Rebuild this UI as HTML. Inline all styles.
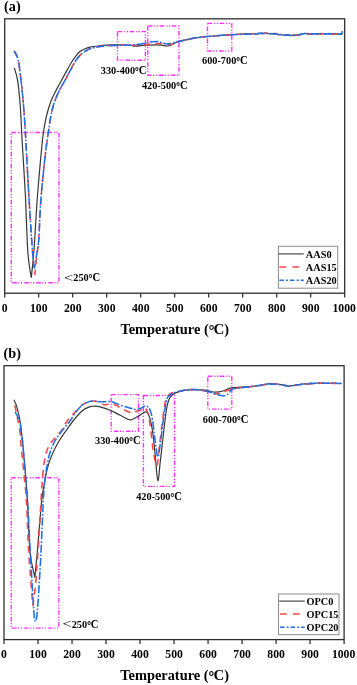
<!DOCTYPE html>
<html><head><meta charset="utf-8"><title>DTG curves</title>
<style>
html,body{margin:0;padding:0;background:#fff;}
body{width:357px;height:685px;overflow:hidden;}
svg{display:block;}
text{font-family:"Liberation Serif",serif;font-weight:bold;fill:#000;}
.tk{font-size:11.7px;}
.ttl{font-size:14.4px;}
.pl{font-size:13.8px;}
.an{font-size:10.3px;}
.lt{font-weight:normal;font-size:12.5px;}
</style></head><body>
<svg width="357" height="685" viewBox="0 0 357 685">
<rect width="357" height="685" fill="#fff"/>
<rect x="11.3" y="132.5" width="47.6" height="150.3" fill="none" stroke="#ff33ff" stroke-width="1.4" stroke-dasharray="4.6 2 1.2 1.5 1.2 1.5"/>
<rect x="117.5" y="31.6" width="27.9" height="28.7" fill="none" stroke="#ff33ff" stroke-width="1.4" stroke-dasharray="4.6 2 1.2 1.5 1.2 1.5"/>
<rect x="147.8" y="26.0" width="31.2" height="49.2" fill="none" stroke="#ff33ff" stroke-width="1.4" stroke-dasharray="4.6 2 1.2 1.5 1.2 1.5"/>
<rect x="207.5" y="23.4" width="24.3" height="27.6" fill="none" stroke="#ff33ff" stroke-width="1.4" stroke-dasharray="4.6 2 1.2 1.5 1.2 1.5"/>
<path d="M14.3 67.8C14.9 69.9 16.6 74.3 17.6 80.3C18.6 86.3 19.4 94.7 20.1 103.8C20.8 112.9 21.5 128.6 21.8 135.0C22.1 141.4 21.6 131.5 22.2 142.0C22.8 152.5 24.6 179.5 25.5 198.0C26.4 216.5 26.9 239.8 27.9 253.0C28.9 266.2 30.7 273.4 31.3 277.5C31.8 272.9 33.0 263.2 34.0 250.0C35.0 236.8 36.1 213.8 37.3 198.0C38.5 182.2 40.0 166.0 41.0 155.0C42.0 144.0 42.5 138.7 43.5 132.0C44.5 125.3 45.4 120.3 46.7 115.0C48.0 109.7 49.8 104.1 51.4 100.0C53.0 95.9 54.5 93.5 56.1 90.4C57.7 87.3 59.3 84.3 61.0 81.2C62.7 78.1 64.3 75.1 66.1 71.9C67.9 68.7 70.1 64.6 71.8 61.8C73.5 59.0 75.2 56.8 76.5 55.1C77.8 53.4 78.4 52.8 79.6 51.8C80.8 50.8 82.1 50.2 83.8 49.4C85.5 48.6 87.3 47.7 90.0 47.1C92.7 46.5 96.4 46.1 100.0 45.7C103.6 45.3 107.0 45.0 111.8 44.9C116.6 44.8 124.7 44.8 128.6 45.0C132.5 45.2 132.5 46.2 135.3 46.2C138.1 46.2 142.0 45.4 145.4 45.2C148.8 45.0 152.8 44.8 155.5 44.8C158.2 44.8 159.8 45.0 161.8 45.2C163.8 45.4 165.8 46.2 167.7 46.0C169.6 45.8 171.1 44.8 173.0 44.0C174.9 43.2 175.5 42.5 179.0 41.5C182.5 40.5 190.3 38.9 193.8 38.2C197.3 37.5 197.7 37.6 200.0 37.3C202.3 37.0 202.3 36.9 207.6 36.5C212.9 36.1 224.0 35.2 231.6 34.7C239.2 34.2 249.0 33.6 253.0 33.5C257.0 33.4 254.7 34.1 255.6 34.1C256.5 34.2 257.3 34.1 258.2 33.9C259.1 33.7 259.9 33.3 260.8 33.2C261.7 33.1 262.5 33.3 263.4 33.3C264.3 33.3 265.1 33.1 266.0 33.2C266.9 33.2 267.7 33.5 268.6 33.6C269.5 33.7 270.3 34.0 271.2 33.9C272.1 33.9 272.9 33.4 273.8 33.4C274.7 33.3 275.5 33.3 276.4 33.6C277.3 33.8 278.1 34.6 279.0 34.8C279.9 35.0 280.7 34.6 281.6 34.7C282.5 34.8 283.3 35.4 284.2 35.4C285.1 35.4 285.9 34.7 286.8 34.6C287.7 34.6 288.5 35.0 289.4 35.1C290.3 35.3 291.1 35.5 292.0 35.4C292.9 35.4 293.7 34.9 294.6 34.9C295.5 34.9 296.3 35.4 297.2 35.4C298.1 35.4 298.9 35.3 299.8 35.0C300.7 34.7 301.5 34.0 302.4 33.7C303.3 33.4 304.1 33.3 305.0 33.4C305.9 33.4 306.7 33.8 307.6 34.0C308.5 34.1 309.3 34.4 310.2 34.4C311.1 34.4 311.9 33.9 312.8 33.8C313.7 33.6 314.5 33.6 315.4 33.6C316.3 33.6 317.1 33.8 318.0 33.8C318.9 33.8 319.7 33.4 320.6 33.4C321.5 33.3 322.3 33.5 323.2 33.6C324.1 33.7 324.9 33.8 325.8 33.9C326.7 34.0 327.5 34.0 328.4 34.0C329.3 34.0 330.1 33.8 331.0 33.8C331.9 33.7 332.7 33.8 333.6 33.8C334.5 33.8 335.3 33.8 336.2 33.8C337.1 33.9 337.9 34.1 338.8 34.1C339.7 34.2 340.8 34.0 341.4 34.0C342.0 34.0 342.2 34.2 342.4 34.2" fill="none" stroke="#383838" stroke-width="1.2" stroke-linejoin="round"/>
<path d="M14.2 50.9C14.9 52.4 17.1 55.4 18.2 60.0C19.3 64.6 19.9 71.3 20.8 78.6C21.7 85.9 22.6 94.4 23.4 103.8C24.2 113.2 25.1 128.6 25.5 135.0C25.9 141.4 25.3 131.5 25.9 142.0C26.5 152.5 27.9 180.0 29.0 198.0C30.1 216.0 31.4 237.3 32.4 250.0C33.4 262.7 34.5 270.3 34.9 274.4C35.2 271.2 36.2 260.7 36.8 255.0C37.4 249.3 38.0 249.5 38.7 240.0C39.4 230.5 39.9 212.2 41.0 198.0C42.1 183.8 44.1 165.4 45.3 155.0C46.4 144.6 47.0 141.5 47.9 135.4C48.8 129.3 49.5 123.5 50.4 118.6C51.3 113.7 52.3 109.3 53.2 106.0C54.1 102.7 54.6 101.6 55.6 99.0C56.6 96.4 57.9 93.4 59.4 90.4C60.9 87.4 62.8 84.3 64.5 81.2C66.2 78.1 67.8 75.0 69.5 71.9C71.2 68.8 73.0 65.2 74.5 62.7C76.0 60.2 77.4 58.3 78.7 56.8C80.0 55.2 80.8 54.4 82.1 53.4C83.4 52.4 85.0 51.4 86.3 50.6C87.6 49.8 87.7 49.4 90.0 48.7C92.3 48.0 96.4 47.0 100.0 46.5C103.6 46.0 107.0 45.7 111.8 45.5C116.6 45.3 124.7 45.3 128.6 45.3C132.5 45.2 132.5 45.4 135.3 45.2C138.1 45.1 143.0 44.6 145.4 44.4C147.8 44.2 147.8 44.1 150.0 44.0C152.2 43.9 155.1 43.4 158.5 43.5C161.9 43.6 167.6 44.5 170.3 44.4C173.1 44.3 173.6 43.5 175.0 43.0C176.4 42.5 175.9 42.3 179.0 41.5C182.1 40.7 190.3 38.9 193.8 38.2C197.3 37.5 197.7 37.6 200.0 37.3C202.3 37.0 202.3 36.9 207.6 36.5C212.9 36.1 224.0 35.2 231.6 34.7C239.2 34.2 249.0 33.9 253.0 33.7C257.0 33.6 254.7 33.8 255.6 33.8C256.5 33.8 257.3 33.6 258.2 33.5C259.1 33.5 259.9 33.6 260.8 33.5C261.7 33.5 262.5 33.5 263.4 33.4C264.3 33.3 265.1 33.0 266.0 32.9C266.9 32.9 267.7 32.9 268.6 33.1C269.5 33.2 270.3 33.8 271.2 33.9C272.1 33.9 272.9 33.6 273.8 33.6C274.7 33.6 275.5 33.7 276.4 33.9C277.3 34.1 278.1 34.6 279.0 34.8C279.9 34.9 280.7 34.7 281.6 34.8C282.5 34.9 283.3 35.3 284.2 35.4C285.1 35.4 285.9 35.2 286.8 35.2C287.7 35.2 288.5 35.3 289.4 35.3C290.3 35.3 291.1 35.0 292.0 35.0C292.9 35.0 293.7 35.3 294.6 35.3C295.5 35.3 296.3 35.3 297.2 35.1C298.1 35.0 298.9 34.7 299.8 34.6C300.7 34.4 301.5 34.5 302.4 34.4C303.3 34.3 304.1 34.2 305.0 34.0C305.9 33.9 306.7 33.6 307.6 33.6C308.5 33.6 309.3 34.0 310.2 34.1C311.1 34.1 311.9 34.0 312.8 34.0C313.7 33.9 314.5 33.8 315.4 33.8C316.3 33.7 317.1 33.5 318.0 33.6C318.9 33.6 319.7 34.1 320.6 34.2C321.5 34.2 322.3 33.9 323.2 33.9C324.1 33.9 324.9 34.0 325.8 34.0C326.7 34.1 327.5 34.2 328.4 34.2C329.3 34.2 330.1 34.0 331.0 34.0C331.9 34.1 332.7 34.2 333.6 34.2C334.5 34.2 335.3 33.8 336.2 33.8C337.1 33.8 337.9 34.1 338.8 34.1C339.7 34.1 340.8 34.0 341.4 34.0C342.0 34.0 342.2 34.2 342.4 34.2" fill="none" stroke="#ff4545" stroke-width="1.55" stroke-dasharray="6.7 5.1" stroke-linejoin="round"/>
<path d="M14.2 50.9C14.9 52.4 17.1 55.4 18.2 60.0C19.3 64.6 19.9 71.3 20.8 78.6C21.7 85.9 22.6 94.4 23.4 103.8C24.2 113.2 25.1 128.6 25.5 135.0C25.9 141.4 25.3 131.5 25.9 142.0C26.5 152.5 27.9 180.0 29.0 198.0C30.1 216.0 31.5 238.3 32.4 250.0C33.3 261.7 34.1 265.0 34.5 268.0C34.9 265.8 35.9 259.7 36.6 255.0C37.3 250.3 38.0 249.5 38.7 240.0C39.4 230.5 39.9 212.2 41.0 198.0C42.1 183.8 44.1 165.4 45.3 155.0C46.4 144.6 47.0 141.5 47.9 135.4C48.8 129.3 49.5 123.5 50.4 118.6C51.3 113.7 52.3 109.3 53.2 106.0C54.1 102.7 54.6 101.6 55.6 99.0C56.6 96.4 57.9 93.4 59.4 90.4C60.9 87.4 62.8 84.3 64.5 81.2C66.2 78.1 67.8 75.0 69.5 71.9C71.2 68.8 73.0 65.2 74.5 62.7C76.0 60.2 77.4 58.3 78.7 56.8C80.0 55.2 80.8 54.4 82.1 53.4C83.4 52.4 85.0 51.4 86.3 50.6C87.6 49.8 87.7 49.4 90.0 48.7C92.3 48.0 96.4 47.0 100.0 46.5C103.6 46.0 107.0 45.7 111.8 45.5C116.6 45.3 124.7 45.4 128.6 45.2C132.5 45.1 132.5 44.9 135.3 44.6C138.1 44.3 143.0 43.6 145.4 43.2C147.8 42.8 148.1 42.3 150.0 42.0C151.9 41.7 154.8 41.5 156.8 41.6C158.8 41.7 160.3 42.4 162.0 42.8C163.7 43.2 165.0 43.9 166.9 43.9C168.8 43.9 171.6 43.1 173.6 42.7C175.6 42.3 175.6 42.2 179.0 41.5C182.4 40.8 190.3 38.9 193.8 38.2C197.3 37.5 197.7 37.6 200.0 37.3C202.3 37.0 202.3 36.9 207.6 36.5C212.9 36.1 224.0 35.1 231.6 34.7C239.2 34.3 249.0 34.3 253.0 34.2C257.0 34.1 254.7 34.2 255.6 34.1C256.5 33.9 257.3 33.4 258.2 33.3C259.1 33.2 259.9 33.1 260.8 33.2C261.7 33.2 262.5 33.5 263.4 33.6C264.3 33.6 265.1 33.4 266.0 33.4C266.9 33.4 267.7 33.5 268.6 33.5C269.5 33.6 270.3 33.4 271.2 33.5C272.1 33.5 272.9 33.8 273.8 33.9C274.7 34.0 275.5 34.1 276.4 34.2C277.3 34.3 278.1 34.4 279.0 34.5C279.9 34.6 280.7 34.4 281.6 34.5C282.5 34.6 283.3 35.0 284.2 35.1C285.1 35.2 285.9 35.1 286.8 35.1C287.7 35.2 288.5 35.3 289.4 35.4C290.3 35.4 291.1 35.5 292.0 35.5C292.9 35.6 293.7 35.6 294.6 35.5C295.5 35.4 296.3 35.1 297.2 34.9C298.1 34.7 298.9 34.6 299.8 34.5C300.7 34.4 301.5 34.2 302.4 34.0C303.3 33.9 304.1 33.7 305.0 33.6C305.9 33.5 306.7 33.5 307.6 33.6C308.5 33.6 309.3 33.8 310.2 33.9C311.1 33.9 311.9 33.8 312.8 33.8C313.7 33.8 314.5 33.8 315.4 33.8C316.3 33.9 317.1 34.2 318.0 34.2C318.9 34.2 319.7 34.0 320.6 33.9C321.5 33.9 322.3 34.0 323.2 33.9C324.1 33.9 324.9 33.8 325.8 33.7C326.7 33.7 327.5 33.6 328.4 33.6C329.3 33.6 330.1 33.8 331.0 33.8C331.9 33.8 332.7 33.6 333.6 33.6C334.5 33.7 335.3 33.8 336.2 33.9C337.1 34.0 337.9 34.3 338.8 34.2C339.7 34.2 340.9 33.9 341.4 33.8C341.9 33.7 341.8 33.6 341.9 33.6C342.0 33.2 342.3 31.4 342.4 31.0" fill="none" stroke="#1f6fe6" stroke-width="1.55" stroke-dasharray="8.2 1.8 1.7 1.8" stroke-linejoin="round"/>
<rect x="4.7" y="18.8" width="340.0" height="274.4" fill="none" stroke="#2e2e2e" stroke-width="1.3"/>
<line x1="4.70" y1="293.2" x2="4.70" y2="297.6" stroke="#2e2e2e" stroke-width="1.25"/>
<text transform="translate(4.7 311.9) scale(1 1.07)" text-anchor="middle" class="tk">0</text>
<line x1="38.70" y1="293.2" x2="38.70" y2="297.6" stroke="#2e2e2e" stroke-width="1.25"/>
<text transform="translate(38.7 311.9) scale(1 1.07)" text-anchor="middle" class="tk">100</text>
<line x1="72.70" y1="293.2" x2="72.70" y2="297.6" stroke="#2e2e2e" stroke-width="1.25"/>
<text transform="translate(72.7 311.9) scale(1 1.07)" text-anchor="middle" class="tk">200</text>
<line x1="106.70" y1="293.2" x2="106.70" y2="297.6" stroke="#2e2e2e" stroke-width="1.25"/>
<text transform="translate(106.7 311.9) scale(1 1.07)" text-anchor="middle" class="tk">300</text>
<line x1="140.70" y1="293.2" x2="140.70" y2="297.6" stroke="#2e2e2e" stroke-width="1.25"/>
<text transform="translate(140.7 311.9) scale(1 1.07)" text-anchor="middle" class="tk">400</text>
<line x1="174.70" y1="293.2" x2="174.70" y2="297.6" stroke="#2e2e2e" stroke-width="1.25"/>
<text transform="translate(174.7 311.9) scale(1 1.07)" text-anchor="middle" class="tk">500</text>
<line x1="208.70" y1="293.2" x2="208.70" y2="297.6" stroke="#2e2e2e" stroke-width="1.25"/>
<text transform="translate(208.7 311.9) scale(1 1.07)" text-anchor="middle" class="tk">600</text>
<line x1="242.70" y1="293.2" x2="242.70" y2="297.6" stroke="#2e2e2e" stroke-width="1.25"/>
<text transform="translate(242.7 311.9) scale(1 1.07)" text-anchor="middle" class="tk">700</text>
<line x1="276.70" y1="293.2" x2="276.70" y2="297.6" stroke="#2e2e2e" stroke-width="1.25"/>
<text transform="translate(276.7 311.9) scale(1 1.07)" text-anchor="middle" class="tk">800</text>
<line x1="310.70" y1="293.2" x2="310.70" y2="297.6" stroke="#2e2e2e" stroke-width="1.25"/>
<text transform="translate(310.7 311.9) scale(1 1.07)" text-anchor="middle" class="tk">900</text>
<line x1="344.70" y1="293.2" x2="344.70" y2="297.6" stroke="#2e2e2e" stroke-width="1.25"/>
<text transform="translate(344.2 311.9) scale(1 1.07)" text-anchor="middle" class="tk">1000</text>
<text x="174.8" y="333.6" text-anchor="middle" class="ttl">Temperature (<tspan font-size="14.2px" dy="1.3" stroke="#000" stroke-width="0.18">°</tspan><tspan dy="-1.3" font-size="14.9px" dx="-0.9">C</tspan>)</text>
<text transform="translate(4.0 11.3) scale(1.035 1)" class="pl">(a)</text>
<text transform="translate(100.8 74.0) scale(1 1.1)" class="an">330-400<tspan font-size="9.2px" dy="1.0" stroke="#000" stroke-width="0.18">°</tspan><tspan dy="-1.0" font-size="10.7px">C</tspan></text>
<text transform="translate(141.9 89.3) scale(1 1.1)" class="an">420-500<tspan font-size="9.2px" dy="1.0" stroke="#000" stroke-width="0.18">°</tspan><tspan dy="-1.0" font-size="10.7px">C</tspan></text>
<text transform="translate(202.0 63.8) scale(1 1.1)" class="an">600-700<tspan font-size="9.2px" dy="1.0" stroke="#000" stroke-width="0.18">°</tspan><tspan dy="-1.0" font-size="10.7px">C</tspan></text>
<text transform="translate(73.3 281.3) scale(1 1.1)" class="an">250<tspan font-size="9.2px" dy="1.0" stroke="#000" stroke-width="0.18">°</tspan><tspan dy="-1.0" font-size="10.7px">C</tspan></text>
<text transform="translate(64.0 281.5) scale(1.32 1.05)" class="lt">&lt;</text>
<rect x="278.4" y="246.3" width="59.3" height="41.9" fill="#fff" stroke="#8c8c8c" stroke-width="1"/>
<line x1="278.6" y1="253.9" x2="303.8" y2="253.9" stroke="#383838" stroke-width="1.1"/>
<line x1="279.4" y1="266.9" x2="303.8" y2="266.9" stroke="#ff4545" stroke-width="1.5" stroke-dasharray="6.8 6.2"/>
<line x1="279.4" y1="280.3" x2="303.8" y2="280.3" stroke="#1f6fe6" stroke-width="1.5" stroke-dasharray="4.5 2.1 1.9 2.1"/>
<text transform="translate(305.8 257.9) scale(1 1.09)" class="an">AAS0</text>
<text transform="translate(305.8 270.9) scale(1 1.09)" class="an">AAS15</text>
<text transform="translate(305.8 284.3) scale(1 1.09)" class="an">AAS20</text>
<rect x="11.2" y="477.8" width="47.6" height="150.3" fill="none" stroke="#ff33ff" stroke-width="1.4" stroke-dasharray="4.6 2 1.2 1.5 1.2 1.5"/>
<rect x="111.2" y="394.6" width="27.3" height="36.6" fill="none" stroke="#ff33ff" stroke-width="1.4" stroke-dasharray="4.6 2 1.2 1.5 1.2 1.5"/>
<rect x="143.4" y="395.5" width="31.1" height="90.9" fill="none" stroke="#ff33ff" stroke-width="1.4" stroke-dasharray="4.6 2 1.2 1.5 1.2 1.5"/>
<rect x="207.8" y="376.3" width="24.0" height="32.8" fill="none" stroke="#ff33ff" stroke-width="1.4" stroke-dasharray="4.6 2 1.2 1.5 1.2 1.5"/>
<path d="M13.9 399.8C14.4 401.0 15.8 403.1 16.8 406.8C17.9 410.5 19.4 417.2 20.2 422.0C21.0 426.8 21.4 431.9 21.8 435.4C22.2 438.9 21.8 432.6 22.7 443.0C23.6 453.4 26.1 479.8 27.3 498.0C28.5 516.2 28.7 538.8 30.0 552.0C31.3 565.2 34.1 573.1 34.9 577.3C35.3 573.1 36.3 563.2 37.3 552.0C38.3 540.8 39.9 519.5 40.8 510.0C41.6 500.5 41.8 499.8 42.4 495.0C43.0 490.2 44.0 485.6 44.7 481.5C45.5 477.4 46.0 474.0 46.9 470.3C47.8 466.6 49.0 462.7 50.3 459.1C51.6 455.6 53.0 452.4 54.7 449.0C56.4 445.6 58.3 442.2 60.3 439.0C62.3 435.8 64.3 433.2 66.6 430.0C68.9 426.8 71.6 422.7 74.2 419.5C76.8 416.3 79.6 413.1 82.0 411.0C84.4 408.9 86.7 407.9 88.7 407.1C90.7 406.3 91.9 406.2 93.8 406.2C95.7 406.1 97.3 406.1 100.0 406.8C102.7 407.5 106.8 408.8 110.2 410.2C113.6 411.6 117.2 413.8 120.3 415.3C123.4 416.9 126.7 418.8 128.7 419.5C130.6 420.2 130.3 420.1 132.0 419.5C133.7 418.9 136.7 417.3 138.7 416.1C140.7 414.9 142.4 413.1 143.8 412.5C145.2 411.9 146.3 411.5 147.3 412.5C148.3 413.5 149.0 415.3 149.9 418.3C150.8 421.3 151.6 424.5 152.5 430.6C153.4 436.8 154.3 446.9 155.2 455.2C156.1 463.5 156.9 479.7 157.8 480.6C158.7 481.5 159.5 467.6 160.4 460.4C161.3 453.2 162.1 445.2 163.0 437.6C163.9 430.0 164.9 420.4 165.7 414.8C166.4 409.2 166.8 407.2 167.5 404.3C168.2 401.4 168.7 399.2 170.0 397.3C171.3 395.4 173.1 394.1 175.4 392.9C177.8 391.7 180.8 390.9 184.1 390.3C187.4 389.8 191.5 389.6 195.0 389.6C198.5 389.6 201.9 389.8 205.3 390.2C208.7 390.6 212.5 392.1 215.4 392.2C218.3 392.3 220.4 391.7 222.9 391.0C225.4 390.3 227.6 388.8 230.5 388.2C233.4 387.6 237.2 387.5 240.6 387.2C244.0 386.9 247.5 386.9 250.7 386.6C253.9 386.3 257.1 385.9 260.0 385.4C262.9 384.9 266.2 384.1 268.0 383.8C269.8 383.6 269.7 383.7 270.6 383.8C271.5 383.8 272.3 383.9 273.2 383.9C274.1 383.9 274.9 383.8 275.8 383.8C276.7 383.8 277.5 383.8 278.4 384.0C279.3 384.1 280.1 384.4 281.0 384.6C281.9 384.9 282.7 385.2 283.6 385.4C284.5 385.6 285.3 385.7 286.2 385.8C287.1 385.9 287.9 386.3 288.8 386.2C289.7 386.2 290.5 385.7 291.4 385.6C292.3 385.5 293.1 385.5 294.0 385.4C294.9 385.3 295.7 385.1 296.6 384.9C297.5 384.7 298.3 384.6 299.2 384.5C300.1 384.3 300.9 384.2 301.8 384.1C302.7 384.0 303.5 383.8 304.4 383.8C305.3 383.8 306.1 384.1 307.0 384.1C307.9 384.1 308.7 383.9 309.6 383.9C310.5 383.8 311.3 383.7 312.2 383.7C313.1 383.6 313.9 383.6 314.8 383.5C315.7 383.4 316.5 383.1 317.4 383.0C318.3 382.9 319.1 383.0 320.0 383.0C320.9 383.0 321.7 383.2 322.6 383.2C323.5 383.3 324.3 383.3 325.2 383.3C326.1 383.4 326.9 383.4 327.8 383.4C328.7 383.5 329.5 383.5 330.4 383.5C331.3 383.4 332.1 383.1 333.0 383.0C333.9 383.0 334.7 383.3 335.6 383.4C336.5 383.5 337.2 383.5 338.2 383.5C339.2 383.5 340.9 383.4 341.4 383.4" fill="none" stroke="#383838" stroke-width="1.2" stroke-linejoin="round"/>
<path d="M14.8 405.2C15.3 407.4 16.7 413.9 17.6 418.6C18.5 423.4 19.6 429.3 20.2 433.7C20.8 438.1 20.0 434.3 21.0 445.0C22.0 455.7 24.9 480.2 26.2 498.0C27.5 515.8 27.6 534.1 28.7 552.0C29.8 569.9 32.1 596.6 32.8 605.5C33.3 602.1 34.9 591.9 35.6 585.0C36.3 578.1 36.6 569.5 37.0 564.0C37.4 558.5 37.3 563.2 38.0 552.0C38.7 540.8 40.4 510.3 41.2 497.0C42.1 483.7 42.6 477.8 43.1 472.0C43.6 466.2 43.8 465.1 44.3 462.0C44.8 458.9 45.2 456.4 46.0 453.6C46.8 450.8 47.8 447.9 49.3 445.2C50.8 442.5 53.1 440.1 55.2 437.6C57.3 435.1 60.1 432.5 61.9 430.0C63.7 427.5 64.1 425.2 66.1 422.5C68.0 419.8 70.9 416.5 73.6 413.6C76.2 410.7 79.5 407.2 82.0 405.2C84.5 403.2 86.8 402.5 88.7 401.8C90.6 401.1 91.5 400.9 93.4 401.0C95.3 401.1 98.0 401.9 100.0 402.6C102.0 403.3 103.1 404.9 105.1 405.0C107.1 405.1 109.3 403.1 111.8 403.5C114.3 403.9 117.5 406.3 120.3 407.7C123.1 409.1 126.5 411.2 128.7 411.9C130.9 412.6 131.8 412.2 133.7 411.9C135.6 411.6 138.6 410.9 140.4 410.2C142.2 409.5 143.3 407.2 144.6 407.8C145.9 408.4 147.2 410.1 148.2 413.9C149.2 417.7 149.9 424.3 150.8 430.6C151.7 436.9 152.4 445.9 153.4 451.7C154.4 457.5 155.9 466.9 156.9 465.7C157.9 464.5 158.7 451.6 159.6 444.6C160.5 437.6 161.3 430.3 162.2 423.6C163.1 416.9 163.9 408.8 164.8 404.3C165.7 399.8 166.3 398.3 167.5 396.4C168.7 394.5 169.0 393.9 171.8 392.9C174.6 391.9 180.2 390.9 184.1 390.3C188.0 389.8 191.1 389.4 195.0 389.6C198.9 389.8 204.4 390.8 207.8 391.5C211.2 392.2 213.3 393.7 215.4 394.0C217.5 394.3 218.3 393.8 220.4 393.2C222.5 392.6 225.1 391.1 228.0 390.2C230.9 389.3 234.2 388.6 238.0 388.0C241.8 387.4 247.0 387.0 250.7 386.6C254.4 386.2 257.1 385.8 260.0 385.4C262.9 385.0 266.2 384.4 268.0 384.1C269.8 383.9 269.7 384.2 270.6 384.2C271.5 384.1 272.3 384.0 273.2 384.0C274.1 383.9 274.9 383.9 275.8 383.9C276.7 383.9 277.5 383.9 278.4 384.0C279.3 384.1 280.1 384.6 281.0 384.8C281.9 385.0 282.7 385.0 283.6 385.1C284.5 385.3 285.3 385.6 286.2 385.7C287.1 385.9 287.9 386.0 288.8 386.0C289.7 386.0 290.5 386.0 291.4 385.9C292.3 385.8 293.1 385.4 294.0 385.3C294.9 385.2 295.7 385.3 296.6 385.2C297.5 385.1 298.3 384.9 299.2 384.8C300.1 384.6 300.9 384.4 301.8 384.3C302.7 384.1 303.5 384.1 304.4 384.0C305.3 383.9 306.1 384.0 307.0 383.9C307.9 383.8 308.7 383.6 309.6 383.5C310.5 383.4 311.3 383.5 312.2 383.5C313.1 383.5 313.9 383.6 314.8 383.5C315.7 383.4 316.5 383.1 317.4 383.1C318.3 383.0 319.1 383.2 320.0 383.3C320.9 383.3 321.7 383.2 322.6 383.2C323.5 383.3 324.3 383.4 325.2 383.4C326.1 383.3 326.9 383.2 327.8 383.1C328.7 383.1 329.5 383.0 330.4 383.1C331.3 383.1 332.1 383.4 333.0 383.4C333.9 383.5 334.7 383.5 335.6 383.5C336.5 383.5 337.2 383.3 338.2 383.3C339.2 383.3 340.9 383.4 341.4 383.4" fill="none" stroke="#ff4545" stroke-width="1.55" stroke-dasharray="6.7 5.1" stroke-linejoin="round"/>
<path d="M15.1 411.9C15.9 413.6 18.7 417.5 19.8 422.0C20.9 426.5 21.3 435.3 21.8 438.8C22.3 442.3 21.8 433.1 22.7 443.0C23.6 452.9 26.0 479.8 27.3 498.0C28.6 516.2 29.4 536.3 30.3 552.0C31.2 567.7 32.0 581.8 32.6 592.0C33.2 602.2 33.7 608.5 34.0 613.0C34.3 617.5 34.4 617.9 34.6 619.3C34.8 620.7 35.1 621.6 35.4 621.6C35.7 621.6 36.0 620.7 36.3 619.3C36.6 617.9 36.8 617.5 37.2 613.0C37.6 608.5 38.1 602.5 38.7 592.0C39.4 581.5 40.4 564.7 41.1 550.0C41.8 535.3 42.6 513.9 43.1 504.0C43.6 494.1 43.7 494.8 44.0 490.5C44.3 486.2 44.6 482.1 45.1 478.2C45.6 474.3 46.2 470.7 46.9 467.0C47.6 463.3 48.2 459.4 49.1 455.8C50.0 452.2 51.2 448.7 52.5 445.7C53.8 442.7 55.3 440.4 57.0 437.8C58.7 435.2 60.5 432.7 62.6 430.0C64.7 427.3 67.4 424.5 69.5 421.7C71.6 418.9 72.9 415.9 75.0 413.2C77.1 410.4 79.7 407.1 82.0 405.2C84.3 403.3 86.7 402.5 88.7 401.8C90.7 401.1 91.9 401.0 93.8 401.0C95.7 401.0 97.0 401.7 100.0 401.8C103.0 401.9 108.4 401.2 111.8 401.8C115.2 402.4 117.5 404.2 120.3 405.2C123.1 406.2 126.2 407.0 128.7 407.7C131.2 408.4 133.4 409.3 135.4 409.4C137.4 409.5 138.7 409.1 140.4 408.5C142.1 407.9 143.9 405.8 145.5 406.0C147.1 406.2 148.7 407.2 149.9 409.6C151.1 412.0 151.6 414.9 152.5 420.1C153.4 425.4 154.3 435.0 155.2 441.1C156.1 447.2 156.9 456.6 157.8 456.9C158.7 457.2 159.5 448.8 160.4 442.9C161.3 437.0 162.1 428.2 163.0 421.8C163.9 415.4 164.8 408.5 165.7 404.3C166.6 400.1 167.0 398.3 168.3 396.4C169.6 394.5 171.0 393.9 173.6 392.9C176.2 391.9 180.5 390.9 184.1 390.3C187.7 389.8 191.1 389.4 195.0 389.6C198.9 389.8 204.4 390.8 207.8 391.5C211.2 392.2 212.9 393.3 215.4 394.0C217.9 394.7 220.8 395.8 222.9 395.8C225.0 395.8 226.5 395.1 228.0 394.0C229.5 392.9 230.1 390.5 231.8 389.5C233.5 388.5 234.8 388.7 238.0 388.2C241.2 387.7 247.0 387.1 250.7 386.6C254.4 386.1 257.1 385.8 260.0 385.4C262.9 385.0 266.2 384.3 268.0 384.1C269.8 383.8 269.7 384.1 270.6 384.1C271.5 384.1 272.3 384.1 273.2 384.1C274.1 384.2 274.9 384.2 275.8 384.2C276.7 384.3 277.5 384.2 278.4 384.4C279.3 384.5 280.1 384.8 281.0 384.9C281.9 385.0 282.7 384.8 283.6 384.9C284.5 385.0 285.3 385.4 286.2 385.6C287.1 385.8 287.9 386.2 288.8 386.3C289.7 386.3 290.5 386.0 291.4 385.8C292.3 385.7 293.1 385.8 294.0 385.6C294.9 385.4 295.7 385.0 296.6 384.8C297.5 384.7 298.3 384.8 299.2 384.7C300.1 384.6 300.9 384.3 301.8 384.2C302.7 384.1 303.5 384.1 304.4 384.0C305.3 383.9 306.1 384.0 307.0 383.9C307.9 383.8 308.7 383.5 309.6 383.4C310.5 383.3 311.3 383.4 312.2 383.4C313.1 383.3 313.9 383.2 314.8 383.2C315.7 383.2 316.5 383.4 317.4 383.4C318.3 383.4 319.1 383.3 320.0 383.2C320.9 383.2 321.7 383.0 322.6 383.0C323.5 383.0 324.3 383.3 325.2 383.3C326.1 383.3 326.9 383.0 327.8 383.0C328.7 383.0 329.5 383.3 330.4 383.3C331.3 383.3 332.1 383.1 333.0 383.1C333.9 383.1 334.7 383.0 335.6 383.1C336.5 383.1 337.2 383.5 338.2 383.5C339.2 383.6 340.9 383.4 341.4 383.4" fill="none" stroke="#1f6fe6" stroke-width="1.55" stroke-dasharray="8.2 1.8 1.7 1.8" stroke-linejoin="round"/>
<rect x="4.0" y="365.7" width="340.1" height="273.9" fill="none" stroke="#2e2e2e" stroke-width="1.3"/>
<line x1="4.00" y1="639.6" x2="4.00" y2="644.0" stroke="#2e2e2e" stroke-width="1.25"/>
<text transform="translate(4.0 658.3) scale(1 1.07)" text-anchor="middle" class="tk">0</text>
<line x1="38.01" y1="639.6" x2="38.01" y2="644.0" stroke="#2e2e2e" stroke-width="1.25"/>
<text transform="translate(38.0 658.3) scale(1 1.07)" text-anchor="middle" class="tk">100</text>
<line x1="72.02" y1="639.6" x2="72.02" y2="644.0" stroke="#2e2e2e" stroke-width="1.25"/>
<text transform="translate(72.0 658.3) scale(1 1.07)" text-anchor="middle" class="tk">200</text>
<line x1="106.03" y1="639.6" x2="106.03" y2="644.0" stroke="#2e2e2e" stroke-width="1.25"/>
<text transform="translate(106.0 658.3) scale(1 1.07)" text-anchor="middle" class="tk">300</text>
<line x1="140.04" y1="639.6" x2="140.04" y2="644.0" stroke="#2e2e2e" stroke-width="1.25"/>
<text transform="translate(140.0 658.3) scale(1 1.07)" text-anchor="middle" class="tk">400</text>
<line x1="174.05" y1="639.6" x2="174.05" y2="644.0" stroke="#2e2e2e" stroke-width="1.25"/>
<text transform="translate(174.1 658.3) scale(1 1.07)" text-anchor="middle" class="tk">500</text>
<line x1="208.06" y1="639.6" x2="208.06" y2="644.0" stroke="#2e2e2e" stroke-width="1.25"/>
<text transform="translate(208.1 658.3) scale(1 1.07)" text-anchor="middle" class="tk">600</text>
<line x1="242.07" y1="639.6" x2="242.07" y2="644.0" stroke="#2e2e2e" stroke-width="1.25"/>
<text transform="translate(242.1 658.3) scale(1 1.07)" text-anchor="middle" class="tk">700</text>
<line x1="276.08" y1="639.6" x2="276.08" y2="644.0" stroke="#2e2e2e" stroke-width="1.25"/>
<text transform="translate(276.1 658.3) scale(1 1.07)" text-anchor="middle" class="tk">800</text>
<line x1="310.09" y1="639.6" x2="310.09" y2="644.0" stroke="#2e2e2e" stroke-width="1.25"/>
<text transform="translate(310.1 658.3) scale(1 1.07)" text-anchor="middle" class="tk">900</text>
<line x1="344.10" y1="639.6" x2="344.10" y2="644.0" stroke="#2e2e2e" stroke-width="1.25"/>
<text transform="translate(343.6 658.3) scale(1 1.07)" text-anchor="middle" class="tk">1000</text>
<text x="174.6" y="680.0" text-anchor="middle" class="ttl">Temperature (<tspan font-size="14.2px" dy="1.3" stroke="#000" stroke-width="0.18">°</tspan><tspan dy="-1.3" font-size="14.9px" dx="-0.9">C</tspan>)</text>
<text transform="translate(3.6 358.0) scale(1.035 1)" class="pl">(b)</text>
<text transform="translate(95.0 444.3) scale(1 1.1)" class="an">330-400<tspan font-size="9.2px" dy="1.0" stroke="#000" stroke-width="0.18">°</tspan><tspan dy="-1.0" font-size="10.7px">C</tspan></text>
<text transform="translate(136.2 499.9) scale(1 1.1)" class="an">420-500<tspan font-size="9.2px" dy="1.0" stroke="#000" stroke-width="0.18">°</tspan><tspan dy="-1.0" font-size="10.7px">C</tspan></text>
<text transform="translate(202.8 422.5) scale(1 1.1)" class="an">600-700<tspan font-size="9.2px" dy="1.0" stroke="#000" stroke-width="0.18">°</tspan><tspan dy="-1.0" font-size="10.7px">C</tspan></text>
<text transform="translate(71.7 627.6) scale(1 1.1)" class="an">250<tspan font-size="9.2px" dy="1.0" stroke="#000" stroke-width="0.18">°</tspan><tspan dy="-1.0" font-size="10.7px">C</tspan></text>
<text transform="translate(62.4 627.8) scale(1.32 1.05)" class="lt">&lt;</text>
<rect x="278.5" y="594.0" width="60.5" height="40.7" fill="#fff" stroke="#8c8c8c" stroke-width="1"/>
<line x1="279.2" y1="601.1" x2="304.7" y2="601.1" stroke="#383838" stroke-width="1.1"/>
<line x1="280.0" y1="614.1" x2="304.7" y2="614.1" stroke="#ff4545" stroke-width="1.5" stroke-dasharray="6.8 6.2"/>
<line x1="280.0" y1="627.2" x2="304.7" y2="627.2" stroke="#1f6fe6" stroke-width="1.5" stroke-dasharray="4.5 2.1 1.9 2.1"/>
<text transform="translate(306.4 605.1) scale(1 1.09)" class="an">OPC0</text>
<text transform="translate(306.4 618.1) scale(1 1.09)" class="an">OPC15</text>
<text transform="translate(306.4 631.2) scale(1 1.09)" class="an">OPC20</text>
</svg></body></html>
